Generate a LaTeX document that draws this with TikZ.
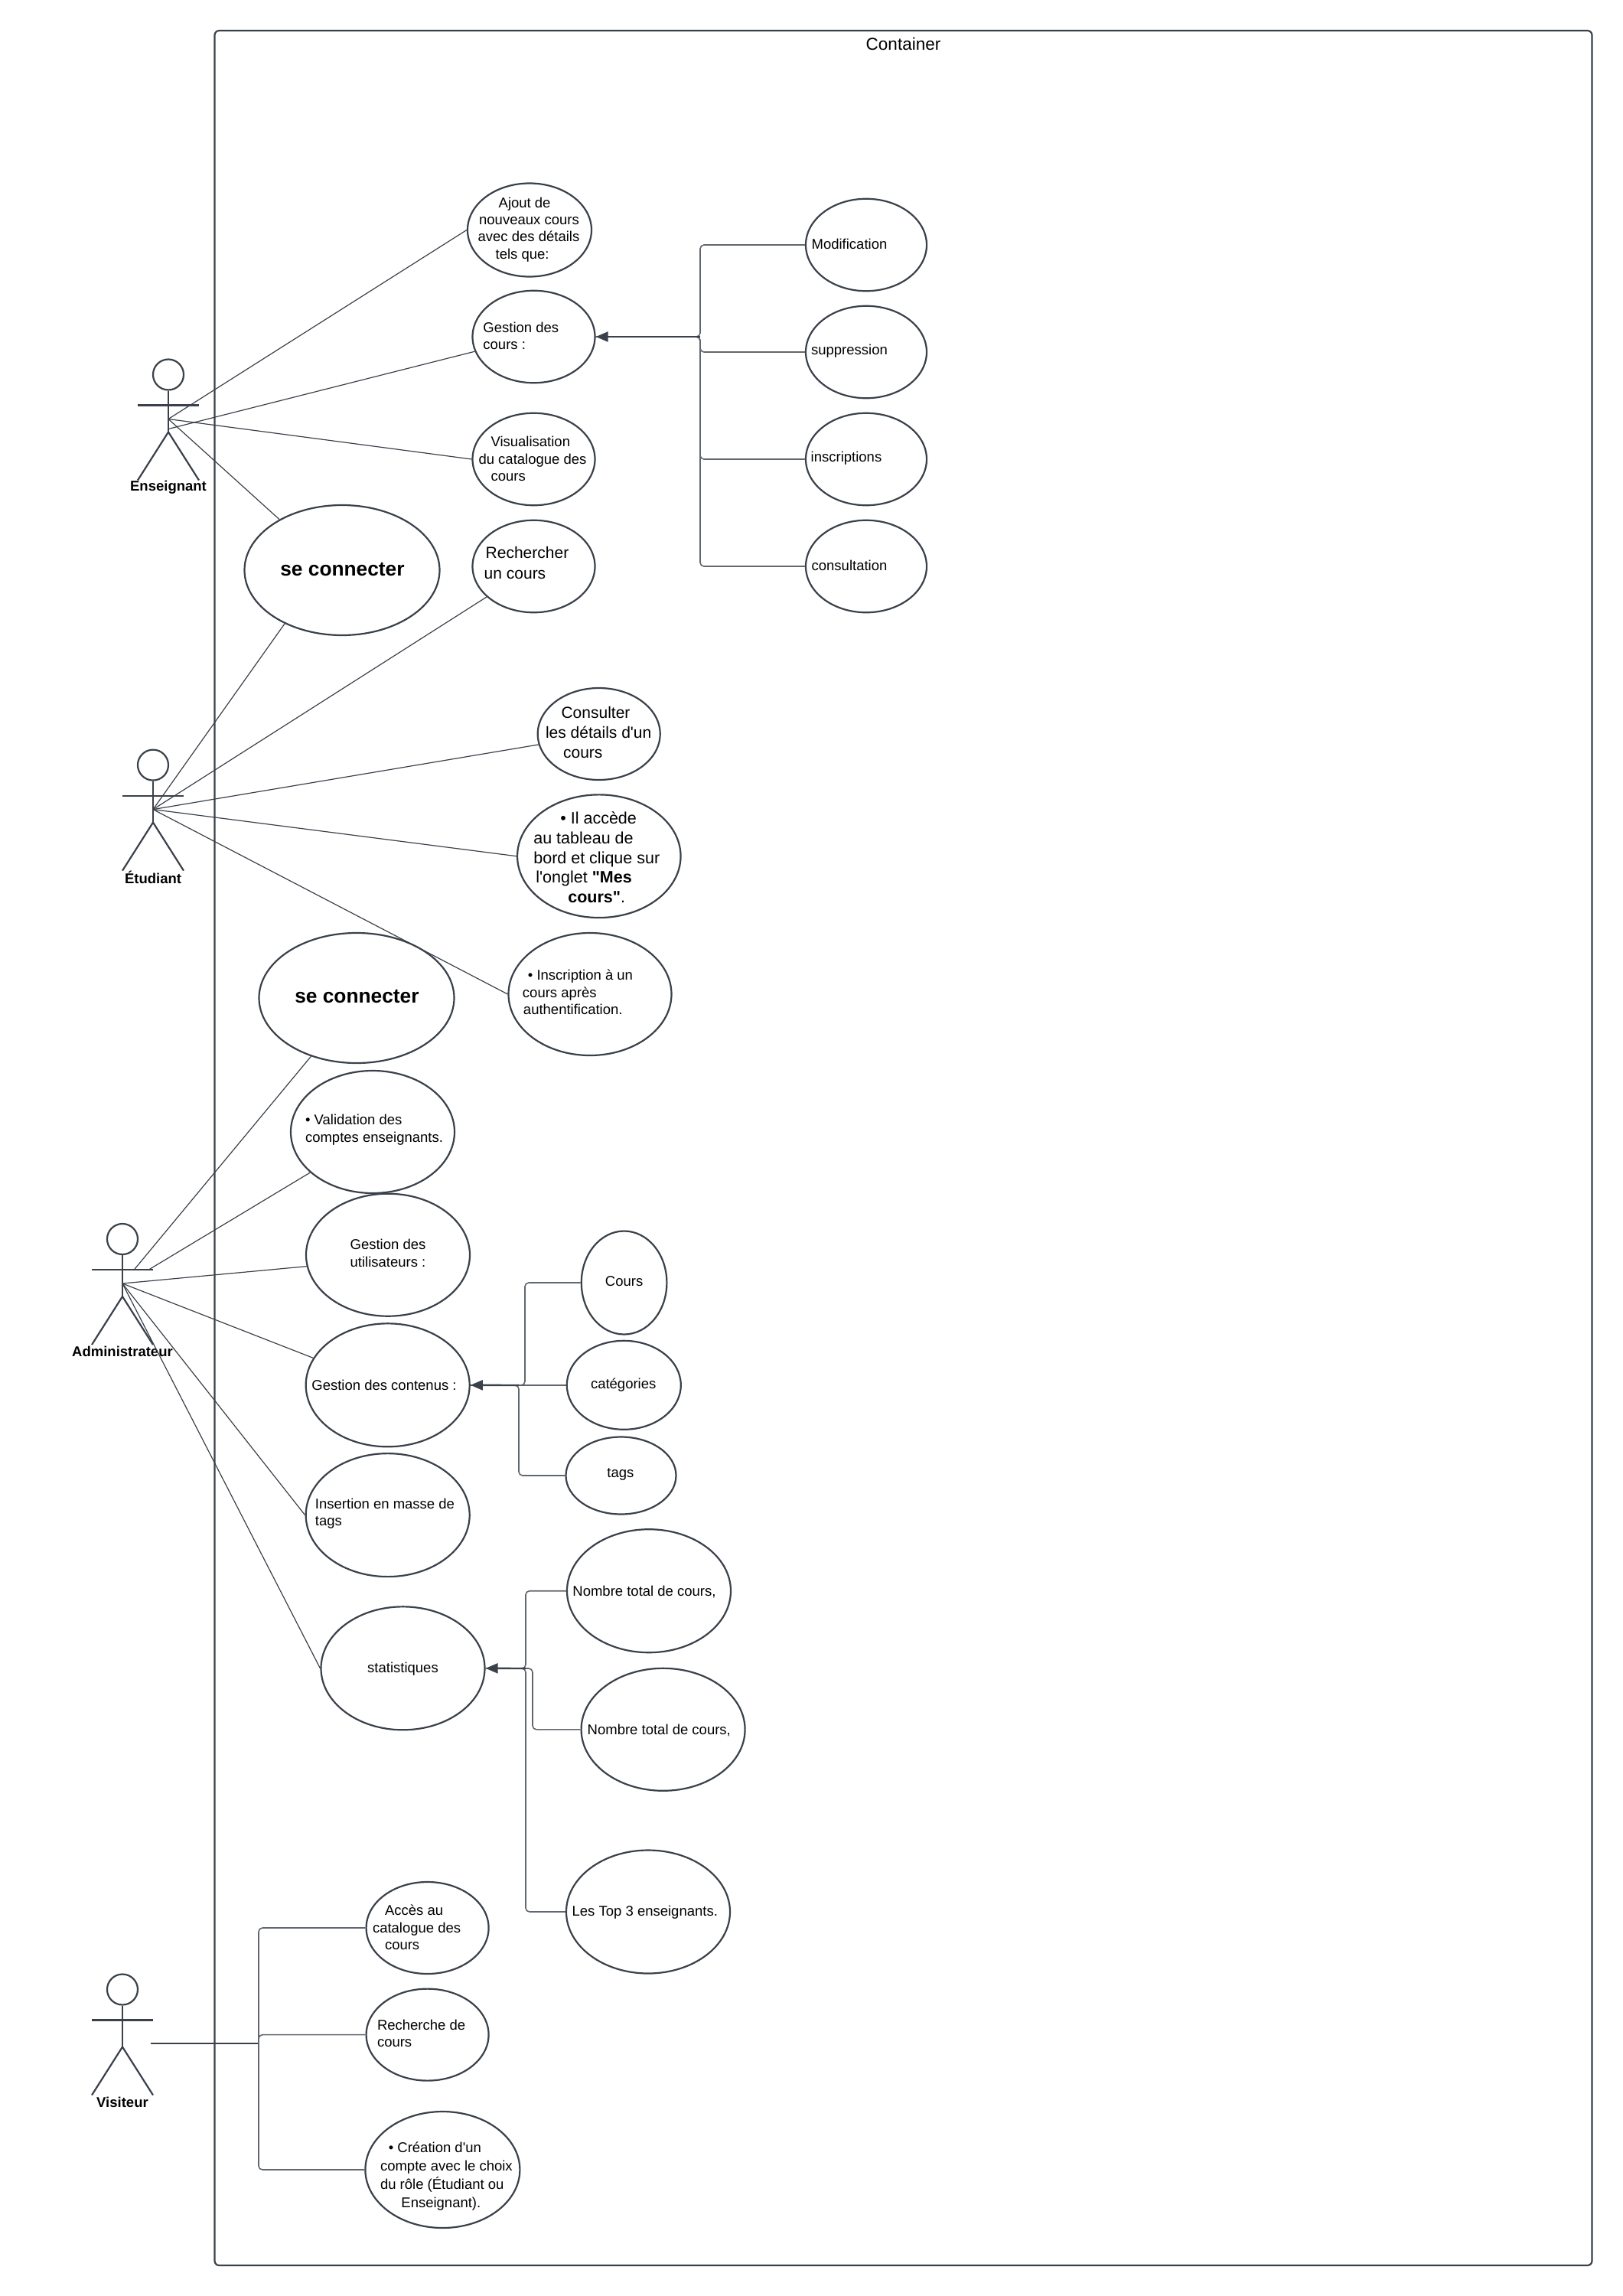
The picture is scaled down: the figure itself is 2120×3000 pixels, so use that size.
\documentclass[tikz,border=0pt]{standalone}
\usepackage{fontspec}
\usetikzlibrary{arrows.meta,shapes.geometric}
\newfontfamily\lucid{Liberation Sans}
\definecolor{linecol}{HTML}{3A414A}
\tikzset{
  uc/.style={ellipse, draw=linecol, line width=2.2pt, inner sep=0pt},
  uctxt/.style={align=left, inner sep=0pt, text=black, yshift=-1.5pt, font=\lucid\fontsize{18.5}{22.4}\selectfont},
  ucbig/.style={uctxt, font=\lucid\fontsize{21.5}{25.6}\selectfont},
  ucbold/.style={uctxt, font=\lucid\bfseries\fontsize{26.3}{30}\selectfont},
  actorname/.style={inner sep=0pt, text=black, font=\lucid\bfseries\fontsize{18.5}{22}\selectfont},
  limb/.style={draw=linecol, line width=2.2pt},
  assoc/.style={draw=linecol, line width=1.2pt},
  link/.style={draw=linecol!80, line width=1.6pt, rounded corners=5pt},
  arrowed/.style={draw=linecol, line width=2.4pt, -{Triangle[length=16pt,width=13pt]}}
}
% actor: name, x, y of the head, printed name
\newcommand{\actor}[4]{
  \node[circle, limb, minimum size=40pt, inner sep=0pt] (#1) at (#2,#3) {};
  \coordinate (#1hip) at (#2,#3+75);
  \coordinate (#1body) at (#2,#3+58);
  \coordinate (#1armL) at (#2-40,#3+40);
  \coordinate (#1armR) at (#2+40,#3+40);
  \coordinate (#1footL) at (#2-40,#3+138);
  \coordinate (#1footR) at (#2+40,#3+138);
  \draw[limb] (#1) -- (#1hip);
  \draw[limb] (#1armL) -- (#1armR);
  \draw[limb] (#1footL) -- (#1hip) -- (#1footR);
  \node[actorname] (#1name) at (#2,#3+147) {#4};
}
\begin{document}
\begin{tikzpicture}[x=1pt, y=-1pt]
    \useasboundingbox (0,0) rectangle (2120,3000);
    % Container
    \node (container) at (1180.5,1500) [rectangle, draw=linecol, line width=2.2pt, rounded corners=6pt, minimum width=1800pt, minimum height=2920pt,
        label={[uctxt, font=\lucid\fontsize{22.5}{26}\selectfont, yshift=-25.5pt]north:Container}] {};
    % Actors
    \actor{ens}{220}{489.5}{Enseignant}
    \actor{etu}{200}{999.6}{Étudiant}
    \actor{adm}{160}{1619}{Administrateur}
    \actor{vis}{160}{2599.5}{Visiteur}
    % Enseignant use cases
    \node (ajout) at (692,300.5) [uc, minimum width=162pt, minimum height=122pt,
        label={[uctxt, xshift=-1pt, yshift=2pt]center:\hspace*{27pt}Ajout de\\\hspace*{1.5pt}nouveaux cours\\avec des détails\\\hspace*{23pt}tels que:}] {};
    \node (gcours) at (697.5,440) [uc, minimum width=160pt, minimum height=120.5pt,
        label={[uctxt, xshift=-16.7pt, yshift=2.5pt]center:Gestion des\\cours :}] {};
    \node (visu) at (697.5,600) [uc, minimum width=160pt, minimum height=120.5pt,
        label={[uctxt, xshift=-1.5pt, yshift=2pt]center:\hspace*{16pt}Visualisation\\du catalogue des\\\hspace*{16pt}cours}] {};
    \node (modif) at (1132,320) [uc, minimum width=158pt, minimum height=120.5pt,
        label={[uctxt, xshift=-22pt, yshift=2.5pt]center:Modification}] {};
    \node (suppr) at (1132,460) [uc, minimum width=158pt, minimum height=120.5pt,
        label={[uctxt, xshift=-22pt, yshift=2.5pt]center:suppression}] {};
    \node (inscr) at (1132,600) [uc, minimum width=158pt, minimum height=120.5pt,
        label={[uctxt, xshift=-26pt, yshift=2.5pt]center:inscriptions}] {};
    \node (consu) at (1132,740) [uc, minimum width=158pt, minimum height=120.5pt,
        label={[uctxt, xshift=-22pt, yshift=2.5pt]center:consultation}] {};
    \node (conA) at (447,745) [uc, minimum width=255pt, minimum height=170pt,
        label={[ucbold, xshift=0.5pt, yshift=2.6pt]center:se connecter}] {};
    % Etudiant use cases
    \node (rech) at (697.5,740) [uc, minimum width=160pt, minimum height=120.5pt,
        label={[ucbig, font=\lucid\fontsize{21}{26.3}\selectfont, xshift=-9.5pt, yshift=6pt]center:\hspace*{2pt}Rechercher\\un cours}] {};
    \node (detail) at (782.7,959) [uc, minimum width=160pt, minimum height=120pt,
        label={[ucbig, font=\lucid\fontsize{21}{25.6}\selectfont, xshift=-0.5pt, yshift=3.5pt]center:\hspace*{20.5pt}Consulter\\les détails d'un\\\hspace*{23pt}cours}] {};
    \node (mescours) at (782.8,1118.7) [uc, minimum width=213.5pt, minimum height=160.7pt,
        label={[ucbig, xshift=-3pt, yshift=0pt]center:\hspace*{35pt}• Il accède\\au tableau de\\bord et clique sur\\\hspace*{3pt}l'onglet \textbf{"Mes}\\\hspace*{45pt}\textbf{cours"}.}] {};
    \node (inscrip) at (771,1299) [uc, minimum width=213pt, minimum height=160pt,
        label={[uctxt, xshift=-16pt, yshift=4pt]center:\hspace*{7pt}• Inscription à un\\cours après\\\hspace*{1pt}authentification.}] {};
    % Administrateur use cases
    \node (conB) at (466,1304) [uc, minimum width=255pt, minimum height=170pt,
        label={[ucbold, xshift=0.4pt, yshift=3pt]center:se connecter}] {};
    \node (valid) at (487,1479) [uc, minimum width=214pt, minimum height=160pt,
        label={[uctxt, xshift=2pt, yshift=4.4pt]center:• Validation des\\comptes enseignants.}] {};
    \node (gutil) at (507,1639.7) [uc, minimum width=214pt, minimum height=160pt,
        label={[uctxt, yshift=3.7pt]center:Gestion des\\utilisateurs :}] {};
    \node (gcont) at (506.7,1809.8) [uc, minimum width=214pt, minimum height=161pt,
        label={[uctxt, xshift=-4.7pt, yshift=1pt]center:Gestion des contenus :}] {};
    \node (tagsm) at (506.7,1979.6) [uc, minimum width=214pt, minimum height=161pt,
        label={[uctxt, xshift=-3.7pt, yshift=3.6pt]center:Insertion en masse de\\tags}] {};
    \node (stats) at (526.5,2179.8) [uc, minimum width=214pt, minimum height=161pt,
        label={[uctxt, yshift=0.8pt]center:statistiques}] {};
    \node (cours) at (815.6,1676) [uc, minimum width=111.6pt, minimum height=135pt,
        label={[uctxt, yshift=3.5pt]center:Cours}] {};
    \node (categ) at (815.3,1809.8) [uc, minimum width=149pt, minimum height=116pt,
        label={[uctxt, xshift=-0.6pt, yshift=2pt]center:catégories}] {};
    \node (tagsn) at (811.5,1928) [uc, minimum width=144pt, minimum height=101pt,
        label={[uctxt, xshift=-0.6pt, yshift=3pt]center:tags}] {};
    \node (nbA) at (848,2078.7) [uc, minimum width=214pt, minimum height=161pt,
        label={[uctxt, xshift=-6pt]center:Nombre total de cours,}] {};
    \node (nbB) at (866.6,2259.8) [uc, minimum width=214pt, minimum height=160pt,
        label={[uctxt, xshift=-5.3pt, yshift=0.8pt]center:Nombre total de cours,}] {};
    \node (top) at (847,2498) [uc, minimum width=214pt, minimum height=161pt,
        label={[uctxt, xshift=-4.2pt, yshift=0.6pt]center:Les Top 3 enseignants.}] {};
    % Visiteur use cases
    \node (acces) at (558.6,2519) [uc, minimum width=160pt, minimum height=120pt,
        label={[uctxt, xshift=-14pt, yshift=2pt]center:\hspace*{16pt}Accès au\\catalogue des\\\hspace*{16pt}cours}] {};
    \node (recher) at (558.6,2658.6) [uc, minimum width=160pt, minimum height=120pt,
        label={[uctxt, xshift=-8pt, yshift=3.5pt]center:Recherche de\\cours}] {};
    \node (creat) at (578.4,2835) [uc, minimum width=202pt, minimum height=152pt,
        label={[uctxt, font=\lucid\fontsize{18.5}{24}\selectfont, xshift=5pt, yshift=-7pt]center:\hspace*{10.8pt}• Création d'un\\compte avec le choix\\du rôle (Étudiant ou\\\hspace*{27.4pt}Enseignant).}] {};
    % Associations
    \draw[assoc] (ensbody) -- (ajout.west);
    \draw[assoc] ([yshift=4pt]enship) -- (gcours.194);
    \draw[assoc] (ensbody) -- (visu.west);
    \draw[assoc] (ensbody) -- (conA.141);
    \draw[assoc] (etubody) -- (conA.223);
    \draw[assoc] (etubody) -- (rech.213);
    \draw[assoc] (etubody) -- (detail.190);
    \draw[assoc] (etubody) -- (mescours.west);
    \draw[assoc] (etubody) -- (inscrip.west);
    \coordinate (admarmA) at (175.3,1659);
    \coordinate (admarmB) at (194.4,1659);
    \draw[assoc] (admarmA) -- (conB.232);
    \draw[assoc] (admarmB) -- (valid.213);
    \draw[assoc] (admbody) -- (gutil.188);
    \draw[assoc] (admbody) -- (gcont.160);
    \draw[assoc] (admbody) -- (tagsm.west);
    \draw[assoc] (admbody) -- (stats.west);
    % Forks
    \coordinate (forkgc) at (915,440);
    \draw[link] (modif.west) -| (forkgc) -- (gcours.east);
    \draw[link] (suppr.west) -| (forkgc) -- (gcours.east);
    \draw[link] (inscr.west) -| (forkgc) -- (gcours.east);
    \draw[link] (consu.west) -| (forkgc) -- (gcours.east);
    \draw[arrowed] (forkgc) -- (gcours.east);
    \coordinate (forkcoA) at (686,1810);
    \coordinate (forkcoB) at (678,1810);
    \draw[link] (cours.west) -| (forkcoA) -- (gcont.east);
    \draw[link] (categ.west) -- (gcont.east);
    \draw[link] (tagsn.west) -| (forkcoB) -- (gcont.east);
    \draw[arrowed] (forkcoB) -- (gcont.east);
    \coordinate (forkstA) at (687,2180);
    \coordinate (forkstB) at (696,2180);
    \draw[link] (nbA.west) -| (forkstA) -- (stats.east);
    \draw[link] (nbB.west) -| (forkstB) -- (stats.east);
    \draw[link] (top.west) -| (forkstA) -- (stats.east);
    \draw[arrowed] (forkstA) -- (stats.east);
    \coordinate (visout) at (196.7,2670);
    \coordinate (forkvis) at (338,2670);
    \draw[limb] (visout) -- (forkvis);
    \draw[link] (forkvis) |- (acces.west);
    \draw[link] (forkvis) |- (recher.west);
    \draw[link] (forkvis) |- (creat.west);
\end{tikzpicture}
\end{document}
